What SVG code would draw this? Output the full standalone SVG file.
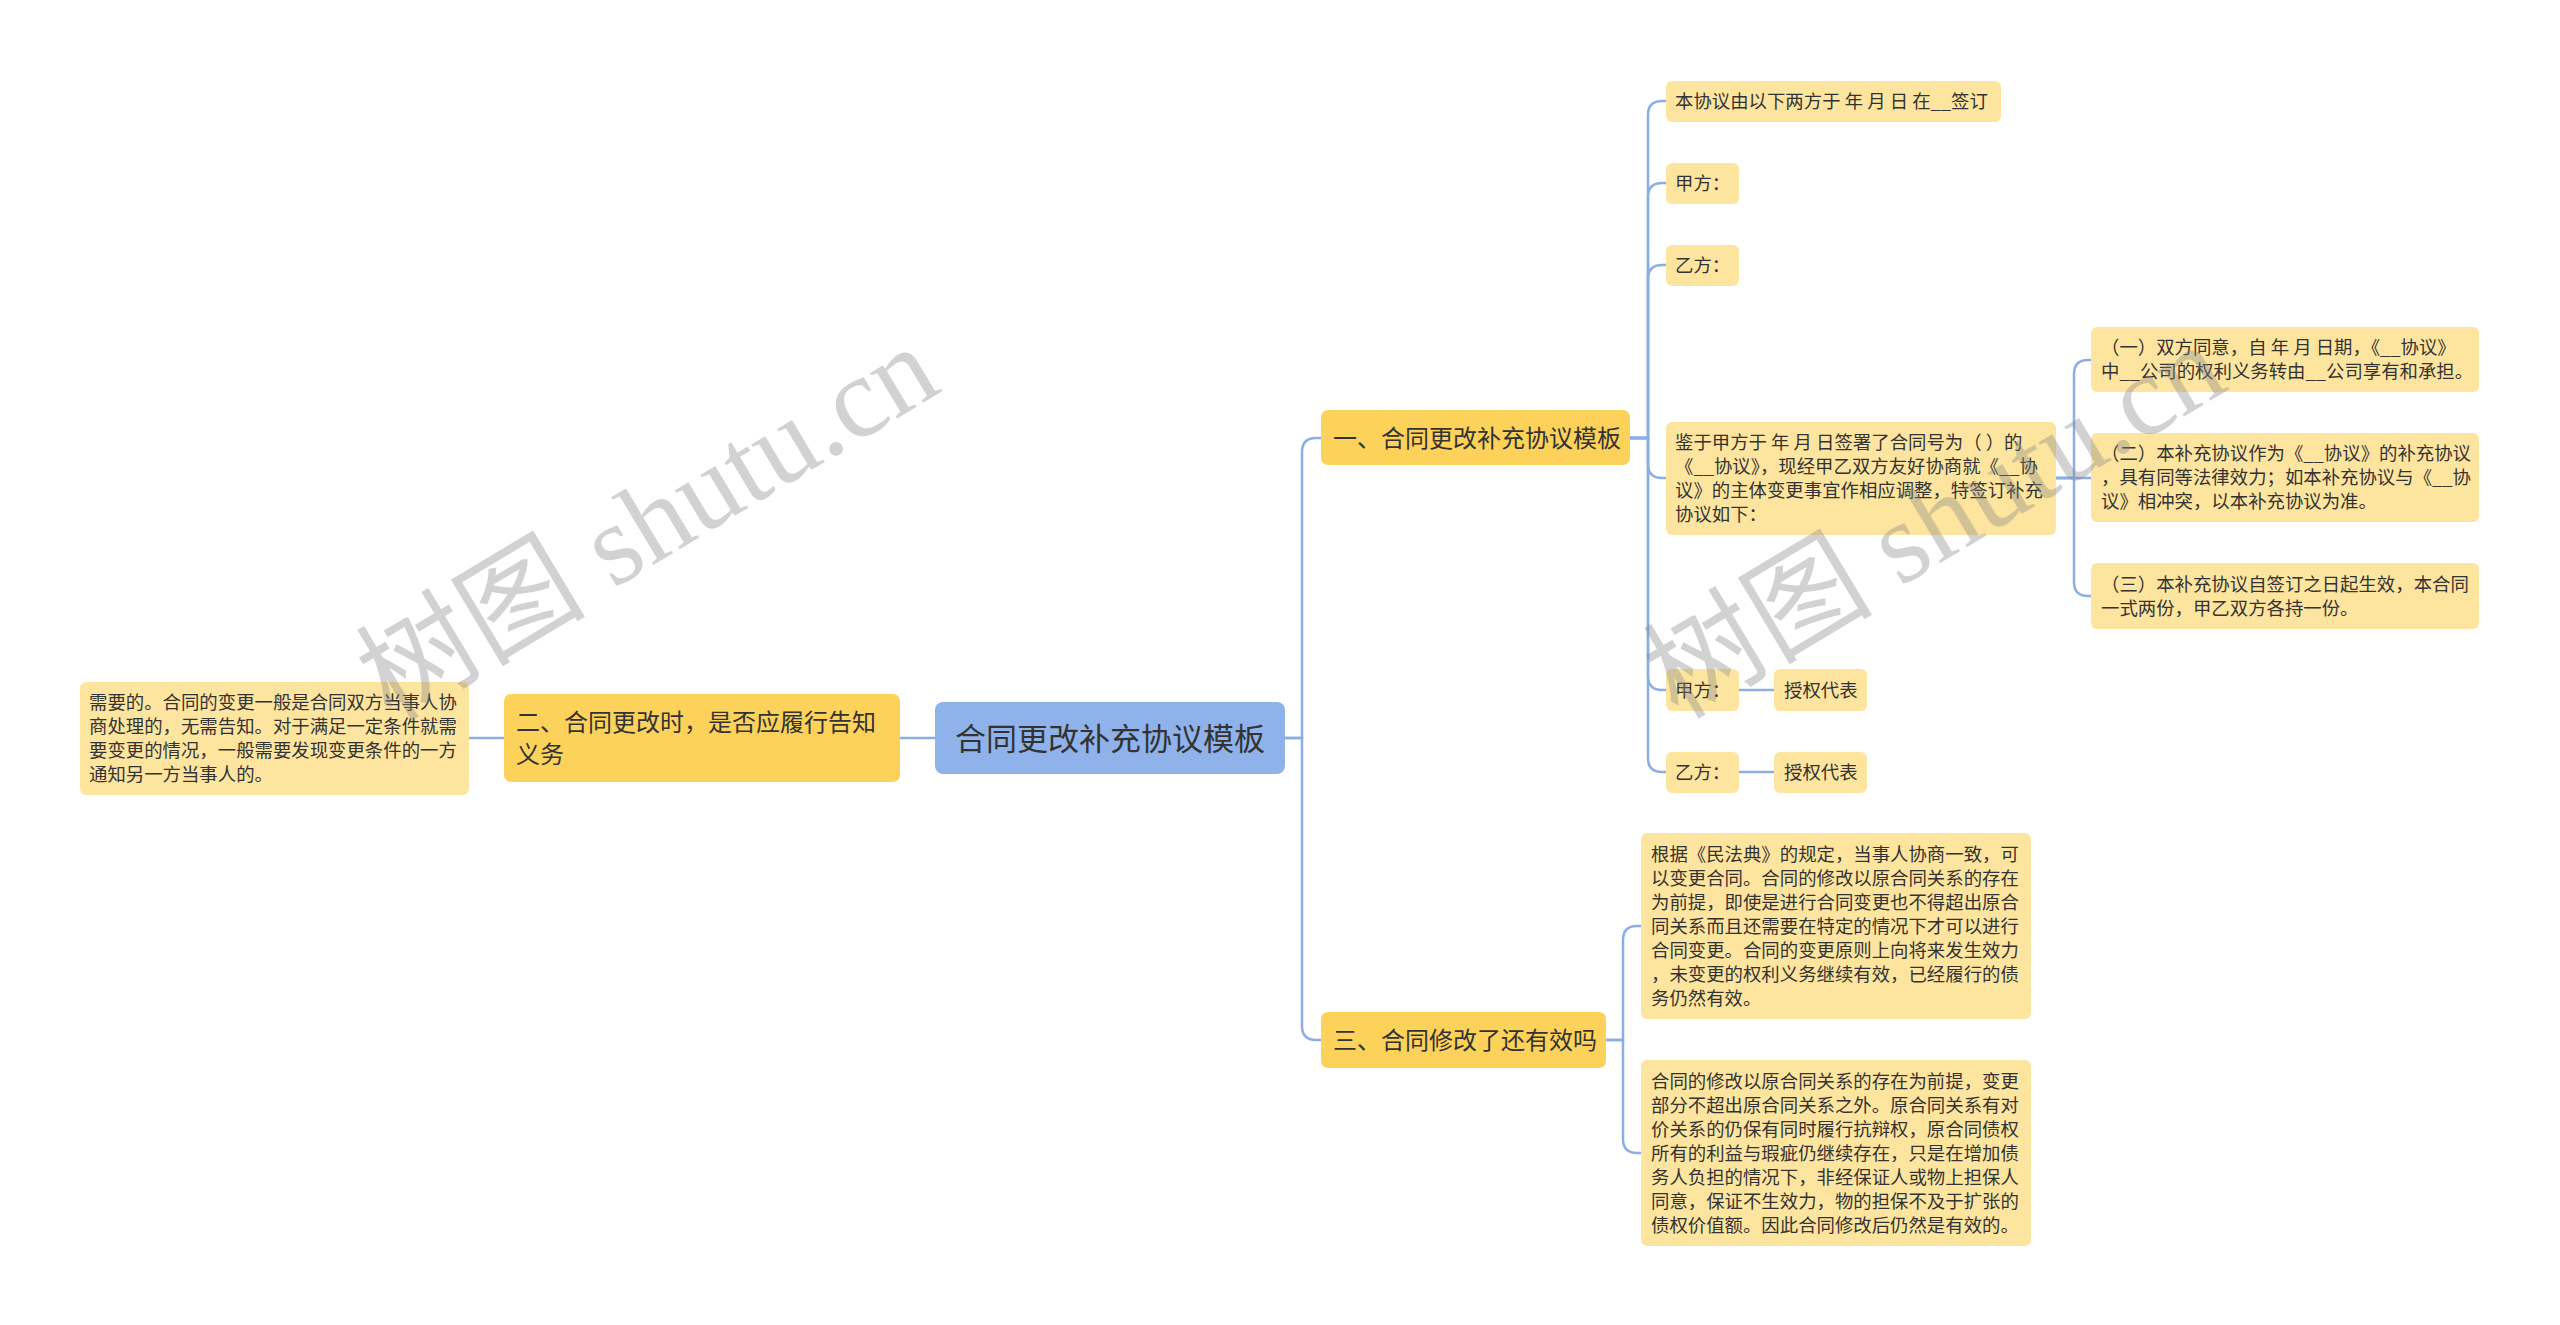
<svg xmlns="http://www.w3.org/2000/svg" width="2560" height="1325" viewBox="0 0 2560 1325">
<style>
text{font-family:"Noto Sans CJK SC","Microsoft YaHei",sans-serif;fill:#333}
.root{fill:#8FB2EA}
.main{fill:#FDD25A}
.leaf{fill:#FEE59F}
.t18{font-size:18.4px}
.t24{font-size:24px}
.t31{font-size:31px}
.conn path{fill:none;stroke:#8CAEE2;stroke-width:2.5}
.wm{font-family:"Liberation Serif","Noto Sans CJK SC",serif;font-size:115px;fill:#888;fill-opacity:0.38}
</style>
<rect width="2560" height="1325" fill="#fff"/>
<g class="conn" id="connectors">
<path d="M935,738 H900"/>
<path d="M504,738 H469"/>
<path d="M1285,738 H1302 V452 Q1302,438 1316,438 H1321"/>
<path d="M1285,738 H1302 V1026 Q1302,1040 1316,1040 H1321"/>
<path d="M1630,438 H1648 V115 Q1648,101 1662,101 H1666"/>
<path d="M1630,438 H1648 V197 Q1648,183 1662,183 H1666"/>
<path d="M1630,438 H1648 V279 Q1648,265 1662,265 H1666"/>
<path d="M1630,438 H1648 V464 Q1648,478 1662,478 H1666"/>
<path d="M1630,438 H1648 V676 Q1648,690 1662,690 H1666"/>
<path d="M1630,438 H1648 V758 Q1648,772 1662,772 H1666"/>
<path d="M1739,690 H1774"/>
<path d="M1739,772 H1774"/>
<path d="M2056,478 H2074 V374 Q2074,360 2088,360 H2091"/>
<path d="M2056,478 H2091"/>
<path d="M2056,478 H2074 V582 Q2074,596 2088,596 H2091"/>
<path d="M1606,1040 H1623 V940 Q1623,926 1637,926 H1641"/>
<path d="M1606,1040 H1623 V1139 Q1623,1153 1637,1153 H1641"/>
</g>
<g id="root">
<rect class="root" x="935" y="702" width="350" height="72" rx="8"/>
<text class="t31" x="1110" y="750" text-anchor="middle">合同更改补充协议模板</text>
</g>
<g id="b2">
<rect class="main" x="504" y="694" width="396" height="88" rx="7"/>
<text class="t24" x="516" y="731">二、合同更改时，是否应履行告知</text>
<text class="t24" x="516" y="763">义务</text>
</g>
<g id="b2-leaf">
<rect class="leaf" x="80" y="682" width="389" height="113" rx="6"/>
<text class="t18" x="89" y="709">需要的。合同的变更一般是合同双方当事人协</text>
<text class="t18" x="89" y="733">商处理的，无需告知。对于满足一定条件就需</text>
<text class="t18" x="89" y="757">要变更的情况，一般需要发现变更条件的一方</text>
<text class="t18" x="89" y="781">通知另一方当事人的。</text>
</g>
<g id="b1">
<rect class="main" x="1321" y="410" width="309" height="55" rx="7"/>
<text class="t24" x="1333" y="446.5">一、合同更改补充协议模板</text>
</g>
<g id="b3">
<rect class="main" x="1321" y="1012" width="285" height="56" rx="7"/>
<text class="t24" x="1333" y="1049">三、合同修改了还有效吗</text>
</g>
<g id="b1-1">
<rect class="leaf" x="1666" y="81" width="335" height="41" rx="6"/>
<text class="t18" x="1675" y="108">本协议由以下两方于 年 月 日 在__签订</text>
</g>
<g id="b1-2">
<rect class="leaf" x="1666" y="163" width="73" height="41" rx="6"/>
<text class="t18" x="1675" y="190">甲方：</text>
</g>
<g id="b1-3">
<rect class="leaf" x="1666" y="245" width="73" height="41" rx="6"/>
<text class="t18" x="1675" y="272">乙方：</text>
</g>
<g id="b1-4">
<rect class="leaf" x="1666" y="422" width="390" height="113" rx="6"/>
<text class="t18" x="1675" y="449">鉴于甲方于 年 月 日签署了合同号为（ ）的</text>
<text class="t18" x="1675" y="473">《__协议》，现经甲乙双方友好协商就《__协</text>
<text class="t18" x="1675" y="497">议》的主体变更事宜作相应调整，特签订补充</text>
<text class="t18" x="1675" y="521">协议如下：</text>
</g>
<g id="b1-4-1">
<rect class="leaf" x="2091" y="327" width="388" height="65" rx="6"/>
<text class="t18" x="2101" y="354">（一）双方同意，自 年 月 日期，《__协议》</text>
<text class="t18" x="2101" y="378">中__公司的权利义务转由__公司享有和承担。</text>
</g>
<g id="b1-4-2">
<rect class="leaf" x="2091" y="433" width="388" height="89" rx="6"/>
<text class="t18" x="2101" y="460">（二）本补充协议作为《__协议》的补充协议</text>
<text class="t18" x="2101" y="484">，具有同等法律效力；如本补充协议与《__协</text>
<text class="t18" x="2101" y="508">议》相冲突，以本补充协议为准。</text>
</g>
<g id="b1-4-3">
<rect class="leaf" x="2091" y="563" width="388" height="66" rx="6"/>
<text class="t18" x="2101" y="591">（三）本补充协议自签订之日起生效，本合同</text>
<text class="t18" x="2101" y="615">一式两份，甲乙双方各持一份。</text>
</g>
<g id="b1-5">
<rect class="leaf" x="1666" y="669" width="73" height="42" rx="6"/>
<text class="t18" x="1675" y="697">甲方：</text>
</g>
<g id="b1-5-1">
<rect class="leaf" x="1774" y="669" width="93" height="42" rx="6"/>
<text class="t18" x="1784" y="697">授权代表</text>
</g>
<g id="b1-6">
<rect class="leaf" x="1666" y="752" width="73" height="41" rx="6"/>
<text class="t18" x="1675" y="779">乙方：</text>
</g>
<g id="b1-6-1">
<rect class="leaf" x="1774" y="752" width="93" height="41" rx="6"/>
<text class="t18" x="1784" y="779">授权代表</text>
</g>
<g id="b3-1">
<rect class="leaf" x="1641" y="833" width="390" height="186" rx="6"/>
<text class="t18" x="1651" y="861">根据《民法典》的规定，当事人协商一致，可</text>
<text class="t18" x="1651" y="885">以变更合同。合同的修改以原合同关系的存在</text>
<text class="t18" x="1651" y="909">为前提，即使是进行合同变更也不得超出原合</text>
<text class="t18" x="1651" y="933">同关系而且还需要在特定的情况下才可以进行</text>
<text class="t18" x="1651" y="957">合同变更。合同的变更原则上向将来发生效力</text>
<text class="t18" x="1651" y="981">，未变更的权利义务继续有效，已经履行的债</text>
<text class="t18" x="1651" y="1005">务仍然有效。</text>
</g>
<g id="b3-2">
<rect class="leaf" x="1641" y="1060" width="390" height="186" rx="6"/>
<text class="t18" x="1651" y="1088">合同的修改以原合同关系的存在为前提，变更</text>
<text class="t18" x="1651" y="1112">部分不超出原合同关系之外。原合同关系有对</text>
<text class="t18" x="1651" y="1136">价关系的仍保有同时履行抗辩权，原合同债权</text>
<text class="t18" x="1651" y="1160">所有的利益与瑕疵仍继续存在，只是在增加债</text>
<text class="t18" x="1651" y="1184">务人负担的情况下，非经保证人或物上担保人</text>
<text class="t18" x="1651" y="1208">同意，保证不生效力，物的担保不及于扩张的</text>
<text class="t18" x="1651" y="1232">债权价值额。因此合同修改后仍然是有效的。</text>
</g>
<g id="watermarks">
<text class="wm" text-anchor="middle" transform="translate(647,522) rotate(-31)" x="0" y="40">树图 shutu.cn</text>
<text class="wm" text-anchor="middle" transform="translate(1934,520) rotate(-31)" x="0" y="40">树图 shutu.cn</text>
</g>
</svg>
